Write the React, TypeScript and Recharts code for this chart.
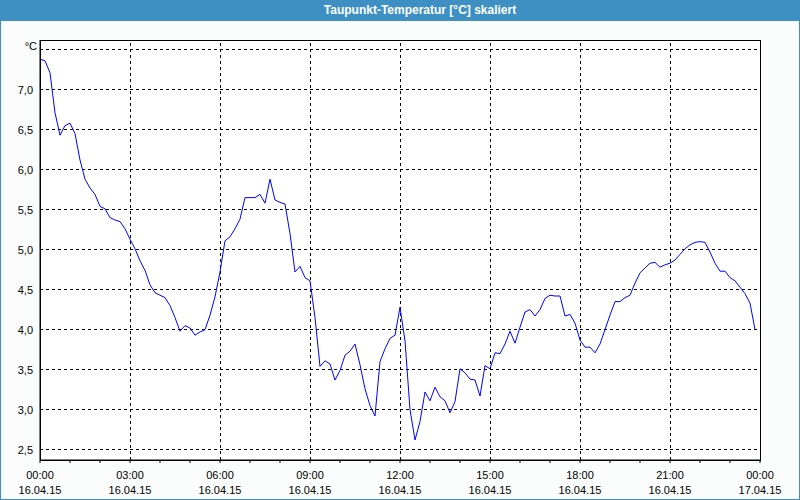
import {
  LineChart,
  Line,
  XAxis,
  YAxis,
  CartesianGrid,
  ReferenceLine,
  ReferenceArea,
} from 'recharts';

// Taupunkt 16.04.15, one value every 10 minutes from 00:00
const dewPoint = [
  7.38, 7.36, 7.21, 6.71, 6.43, 6.55, 6.58, 6.45, 6.12, 5.88,
  5.77, 5.69, 5.54, 5.51, 5.4, 5.37, 5.35, 5.26, 5.13, 5.01,
  4.86, 4.74, 4.56, 4.46, 4.43, 4.4, 4.3, 4.15, 3.98, 4.05,
  4.02, 3.93, 3.97, 4.0, 4.18, 4.41, 4.72, 5.11, 5.16, 5.26,
  5.38, 5.65, 5.65, 5.65, 5.69, 5.58, 5.88, 5.62, 5.59, 5.57,
  5.2, 4.72, 4.79, 4.65, 4.61, 4.15, 3.54, 3.61, 3.57, 3.37,
  3.49, 3.68, 3.73, 3.82, 3.56, 3.26, 3.05, 2.92, 3.6, 3.76,
  3.89, 3.93, 4.28, 3.86, 3.0, 2.62, 2.85, 3.22, 3.11, 3.28,
  3.16, 3.11, 2.96, 3.1, 3.51, 3.46, 3.38, 3.37, 3.17, 3.55,
  3.51, 3.71, 3.7, 3.82, 3.98, 3.83, 4.03, 4.22, 4.25, 4.17,
  4.25, 4.39, 4.43, 4.42, 4.42, 4.17, 4.19, 4.08, 3.87, 3.78,
  3.78, 3.71, 3.82, 4.0, 4.18, 4.35, 4.35, 4.4, 4.43, 4.58,
  4.71, 4.77, 4.83, 4.84, 4.78, 4.81, 4.83, 4.87, 4.94, 5.01,
  5.06, 5.09, 5.1, 5.09, 4.97, 4.83, 4.73, 4.73, 4.65, 4.61,
  4.53, 4.45, 4.33, 4.0,
];
const STEP_HOURS = 10 / 60;

const yTicks = [2.5, 3, 3.5, 4, 4.5, 5, 5.5, 6, 6.5, 7, 7.5];
const Y_MIN = 2.37;
const Y_MAX = 7.62;

const hourTicks = [
  0, 1, 2, 3, 4, 5, 6, 7, 8, 9, 10, 11, 12, 13, 14, 15, 16, 17, 18, 19, 20,
  21, 22, 23, 24,
];
const labelHours = [0, 3, 6, 9, 12, 15, 18, 21, 24];
const timeLabels = ['00:00', '03:00', '06:00', '09:00', '12:00', '15:00', '18:00', '21:00', '00:00'];
const dateLabels = [
  '16.04.15', '16.04.15', '16.04.15', '16.04.15', '16.04.15',
  '16.04.15', '16.04.15', '16.04.15', '17.04.15',
];
const gridHours = [3, 6, 9, 12, 15, 18, 21];

const data = dewPoint.map((v, i) => ({ t: i * STEP_HOURS, v }));

const FONT = '"Liberation Sans", Arial, sans-serif';
const BLUE = '#3d8fc4';

const XTick = (props: any) => {
  const { x, y, payload } = props;
  const idx = labelHours.indexOf(payload.value);
  if (idx < 0) return <g />;
  return (
    <g>
      <text x={x} y={y + 16} textAnchor='middle' fontSize={11} fontFamily={FONT} fill='#000'>
        {timeLabels[idx]}
      </text>
      <text x={x} y={y + 31} textAnchor='middle' fontSize={11} fontFamily={FONT} fill='#000'>
        {dateLabels[idx]}
      </text>
    </g>
  );
};

const YTick = (props: any) => {
  const { x, y, payload } = props;
  if (payload.value === 7.5) {
    return (
      <text x={x - 3} y={y} textAnchor='end' fontSize={11} fontFamily={FONT} fill='#000'>
        °C
      </text>
    );
  }
  return (
    <text x={x - 7} y={y + 4} textAnchor='end' fontSize={11} fontFamily={FONT} fill='#000'>
      {payload.value.toFixed(1).replace('.', ',')}
    </text>
  );
};

const App = () => {
  return (
    <div
      style={{
        position: 'absolute',
        left: 0,
        top: 0,
        width: 800,
        height: 500,
        background: '#fbfdfd',
        overflow: 'hidden',
      }}
    >
      <LineChart
        width={800}
        height={500}
        data={data}
        margin={{ top: 40, right: 40, left: 0, bottom: 0 }}
        style={{ position: 'absolute', left: 0, top: 0 }}
      >
        <CartesianGrid
          vertical={false}
          stroke='#000'
          strokeDasharray='3 3'
          fill='#ffffff'
          fillOpacity={1}
          shapeRendering='crispEdges'
        />
        {gridHours.map((h) => (
          <ReferenceLine
            key={h}
            x={h}
            stroke='#000'
            strokeDasharray='3 3'
            shapeRendering='crispEdges'
          />
        ))}
        <ReferenceArea
          x1={0}
          x2={24}
          y1={Y_MIN}
          y2={Y_MAX}
          fill='none'
          stroke='#000'
          strokeOpacity={1}
          shapeRendering='crispEdges'
        />
        <XAxis
          type='number'
          dataKey='t'
          domain={[0, 24]}
          ticks={hourTicks}
          interval={0}
          height={40}
          tickSize={3}
          tickMargin={0}
          tick={<XTick />}
          axisLine={{ stroke: '#000' }}
          tickLine={{ stroke: '#000' }}
        />
        <YAxis
          type='number'
          domain={[Y_MIN, Y_MAX]}
          ticks={yTicks}
          interval={0}
          width={40}
          tickSize={0}
          tickMargin={0}
          tickLine={false}
          tick={<YTick />}
          axisLine={{ stroke: '#000' }}
          allowDataOverflow
        />
        <Line
          type='linear'
          dataKey='v'
          stroke='#0000ff'
          strokeWidth={1}
          dot={false}
          isAnimationActive={false}
        />
      </LineChart>
      <div
        style={{
          position: 'absolute',
          left: 0,
          top: 0,
          width: 800,
          height: 21,
          background: BLUE,
          color: '#fff',
          fontFamily: FONT,
          fontWeight: 'bold',
          fontSize: 12,
          lineHeight: '20px',
          textAlign: 'center',
          paddingLeft: 40,
          boxSizing: 'border-box',
        }}
      >
        Taupunkt-Temperatur [°C] skaliert
      </div>
      <div
        style={{
          position: 'absolute',
          left: 0,
          top: 0,
          width: 800,
          height: 500,
          border: `1px solid ${BLUE}`,
          boxSizing: 'border-box',
          pointerEvents: 'none',
        }}
      />
    </div>
  );
};

export default App;
